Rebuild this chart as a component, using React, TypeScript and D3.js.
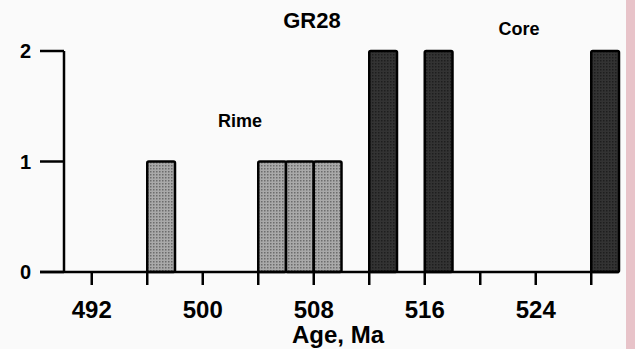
import React, { useEffect, useRef } from "react";
import * as d3 from "d3";

// histogram bins (Ma), bin width 2
const binStarts = [496, 504, 506, 508, 512, 516, 528];
const counts = [1, 1, 1, 1, 2, 2, 2];
const groups = ["Rime", "Rime", "Rime", "Rime", "Core", "Core", "Core"];
const majorTicks = [492, 500, 508, 516, 524];
const minorTicks = [496, 504, 512, 520, 528];
const yTicks = [0, 1, 2];
const binWidth = 2;

const W = 635;
const H = 349;

const App = () => {
  const ref = useRef<SVGSVGElement>(null);

  useEffect(() => {
    const svg = d3.select(ref.current);
    svg.selectAll("*").remove();

    const font = "'Liberation Sans', Arial, sans-serif";

    const x = d3.scaleLinear().domain([490, 530]).range([64, 619]);
    const y = d3.scaleLinear().domain([0, 2]).range([272, 51]);

    // background
    svg.append("rect").attr("width", W).attr("height", H).attr("fill", "#fafafa");
    svg.append("rect").attr("x", 626).attr("width", W - 626).attr("height", H).attr("fill", "#e8c3c9");

    // fill patterns
    const defs = svg.append("defs");
    const light = defs.append("pattern")
      .attr("id", "lightFill")
      .attr("width", 3).attr("height", 3)
      .attr("patternUnits", "userSpaceOnUse");
    light.append("rect").attr("width", 3).attr("height", 3).attr("fill", "#a9a9a9");
    light.append("rect").attr("width", 1.5).attr("height", 1.5).attr("fill", "#6c6c6c");

    const dark = defs.append("pattern")
      .attr("id", "darkFill")
      .attr("width", 3).attr("height", 3)
      .attr("patternUnits", "userSpaceOnUse");
    dark.append("rect").attr("width", 3).attr("height", 3).attr("fill", "#333");
    dark.append("rect").attr("width", 1.5).attr("height", 1.5).attr("fill", "#1e1e1e");

    // bars
    svg.selectAll(".bar")
      .data(binStarts)
      .enter().append("rect")
      .attr("class", "bar")
      .attr("x", d => x(d))
      .attr("y", (_, i) => y(counts[i]))
      .attr("width", d => x(d + binWidth) - x(d))
      .attr("height", (_, i) => y(0) - y(counts[i]))
      .attr("fill", (_, i) => groups[i] === "Core" ? "url(#darkFill)" : "url(#lightFill)")
      .attr("stroke", "#000")
      .attr("stroke-width", 2.5)
      .attr("rx", 1.5);

    // axes lines
    const axisColor = "#000";
    svg.append("line")
      .attr("x1", 40).attr("x2", x(530))
      .attr("y1", y(0)).attr("y2", y(0))
      .attr("stroke", axisColor).attr("stroke-width", 2.5);
    svg.append("line")
      .attr("x1", x(490)).attr("x2", x(490))
      .attr("y1", y(2)).attr("y2", y(0))
      .attr("stroke", axisColor).attr("stroke-width", 2.5);

    // y ticks
    svg.selectAll(".ytick")
      .data(yTicks)
      .enter().append("line")
      .attr("x1", 40).attr("x2", x(490))
      .attr("y1", d => y(d)).attr("y2", d => y(d))
      .attr("stroke", axisColor).attr("stroke-width", 2.5);

    svg.selectAll(".ylabel")
      .data(yTicks)
      .enter().append("text")
      .attr("x", 31)
      .attr("y", d => y(d))
      .attr("dy", "0.36em")
      .attr("text-anchor", "end")
      .style("font-family", font)
      .style("font-weight", "bold")
      .style("font-size", "20px")
      .text(d => d);

    // x ticks
    svg.selectAll(".xtick")
      .data([...majorTicks, ...minorTicks])
      .enter().append("line")
      .attr("x1", d => x(d)).attr("x2", d => x(d))
      .attr("y1", y(0)).attr("y2", y(0) + 13)
      .attr("stroke", axisColor).attr("stroke-width", 2.5);

    svg.selectAll(".xlabel")
      .data(majorTicks)
      .enter().append("text")
      .attr("x", d => x(d))
      .attr("y", 318)
      .attr("text-anchor", "middle")
      .style("font-family", font)
      .style("font-weight", "bold")
      .style("font-size", "24px")
      .text(d => d);

    // texts
    const label = (t: string, cx: number, cy: number, size: number) =>
      svg.append("text")
        .attr("x", cx).attr("y", cy)
        .attr("text-anchor", "middle")
        .style("font-family", font)
        .style("font-weight", "bold")
        .style("font-size", size + "px")
        .text(t);

    label("GR28", 312, 28, 22);
    label("Core", 519, 35, 18);
    label("Rime", 240, 127, 18);
    label("Age, Ma", 338, 343, 24);
  }, []);

  return (
    <svg
      ref={ref}
      width={W}
      height={H}
      style={{ position: "absolute", left: 0, top: 0 }}
    />
  );
};

export default App;
